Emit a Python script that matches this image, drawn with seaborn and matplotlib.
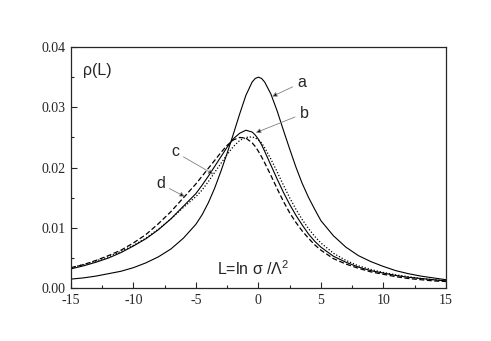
import numpy as np
import pandas as pd
import matplotlib
matplotlib.use('Agg')
import matplotlib.pyplot as plt
import seaborn as sns
from matplotlib.ticker import MultipleLocator, FormatStrFormatter

# values
L = [-15, -14, -13, -12, -11, -10, -9, -8, -7, -6, -5,
     -4.5, -4, -3.5, -3, -2.5, -2, -1.5, -1, -0.5, -0.25, 0, 0.25, 0.5, 1, 1.5, 2, 2.5, 3, 3.5, 4, 4.5,
     5, 6, 7, 8, 9, 10, 11, 12, 13, 14, 15]

rho_a = [0.0015, 0.0017, 0.0020, 0.0024, 0.0028, 0.0034, 0.0042, 0.0052, 0.0065, 0.0083, 0.0106,
         0.0122, 0.0142, 0.0166, 0.0194, 0.0224, 0.0256, 0.0289, 0.0320, 0.0342, 0.0348, 0.0350, 0.0348,
         0.0342, 0.0322, 0.0294, 0.0262, 0.0231, 0.0201, 0.0174, 0.0151, 0.0131,
         0.0112, 0.0087, 0.0068, 0.0054, 0.0044, 0.0036, 0.0029, 0.0024, 0.0020, 0.0017, 0.0014]

rho_b = [0.0032, 0.0037, 0.0043, 0.0050, 0.0059, 0.0070, 0.0082, 0.0097, 0.0115, 0.0136, 0.0157,
         0.0171, 0.0186, 0.0202, 0.0218, 0.0234, 0.0248, 0.0257, 0.0262, 0.0259, 0.0254, 0.0247, 0.0238,
         0.0227, 0.0204, 0.0181, 0.0159, 0.0139, 0.0121, 0.0105, 0.0090, 0.0078,
         0.0068, 0.0053, 0.0043, 0.0035, 0.0029, 0.0025, 0.0021, 0.0018, 0.0016, 0.0014, 0.0012]

rho_c = [0.0034, 0.0039, 0.0045, 0.0052, 0.0061, 0.0071, 0.0083, 0.0098, 0.0115, 0.0134, 0.0152,
         0.0163, 0.0177, 0.0192, 0.0207, 0.0222, 0.0235, 0.0245, 0.0250, 0.0251, 0.0249, 0.0246, 0.0241,
         0.0233, 0.0214, 0.0193, 0.0171, 0.0150, 0.0131, 0.0114, 0.0099, 0.0086,
         0.0075, 0.0058, 0.0046, 0.0037, 0.0031, 0.0026, 0.0022, 0.0019, 0.0016, 0.0014, 0.0012]

rho_d = [0.0034, 0.0039, 0.0046, 0.0054, 0.0063, 0.0075, 0.0089, 0.0107, 0.0127, 0.0150, 0.0173,
         0.0186, 0.0199, 0.0212, 0.0225, 0.0237, 0.0246, 0.0250, 0.0249, 0.0241, 0.0235, 0.0227, 0.0218,
         0.0208, 0.0187, 0.0165, 0.0144, 0.0125, 0.0109, 0.0095, 0.0083, 0.0072,
         0.0063, 0.0049, 0.0040, 0.0033, 0.0027, 0.0023, 0.0019, 0.0016, 0.0014, 0.0012, 0.0011]

# label text position and arrow tip (L, rho)
labels = ['a', 'b', 'c', 'd']
label_pos = [(3.1, 0.0341), (3.3, 0.0290), (-7.0, 0.0226), (-8.2, 0.0173)]
arrow_tip = [(1.1, 0.0318), (-0.2, 0.0258), (-3.6, 0.0189), (-5.9, 0.0152)]

sns.set_style('ticks')
plt.rcParams['xtick.direction'] = 'in'
plt.rcParams['ytick.direction'] = 'in'
plt.rcParams['axes.unicode_minus'] = False

fig = plt.figure(figsize=(4.91, 3.41), dpi=100)
ax = fig.add_axes([0.1446, 0.155, 0.7634, 0.707])

sns.lineplot(x=L, y=rho_a, ax=ax, color='black', lw=0.8)
sns.lineplot(x=L, y=rho_b, ax=ax, color='black', lw=0.8)
sns.lineplot(x=L, y=rho_c, ax=ax, color='black', lw=0.9, linestyle=(0, (1, 1.5)))
sns.lineplot(x=L, y=rho_d, ax=ax, color='black', lw=0.9, linestyle=(0, (4, 2)))

for lab, pos, tip in zip(labels, label_pos, arrow_tip):
    ax.annotate(lab, xy=tip, xytext=pos, fontsize=11.5, family='Liberation Sans',
                ha='left', va='center',
                arrowprops=dict(arrowstyle='-|>', color='black', ec='gray', fc='black',
                                lw=0.6, mutation_scale=7, shrinkA=1, shrinkB=0))

ax.text(-14.0, 0.0361, 'ρ(L)', fontsize=11.5, family='Liberation Sans', va='center')
ax.text(-3.3, 0.0033, r'L=ln $\mathregular{\sigma}$ /$\mathregular{\Lambda^2}$', fontsize=11.5,
        family='Liberation Sans', va='center')

ax.set_xlim(-15, 15)
ax.set_ylim(0, 0.04)
ax.xaxis.set_major_locator(MultipleLocator(5))
ax.xaxis.set_minor_locator(MultipleLocator(2.5))
ax.yaxis.set_major_locator(MultipleLocator(0.01))
ax.yaxis.set_minor_locator(MultipleLocator(0.005))
ax.yaxis.set_major_formatter(FormatStrFormatter('%.2f'))
ax.tick_params(which='major', length=4, width=0.8, labelsize=10, pad=4)
ax.tick_params(which='minor', length=2.5, width=0.8)
for t in ax.get_xticklabels() + ax.get_yticklabels():
    t.set_family('Liberation Serif')
for s in ax.spines.values():
    s.set_linewidth(0.9)
ax.set_xlabel('')
ax.set_ylabel('')

fig.savefig('out.png', dpi=100)
